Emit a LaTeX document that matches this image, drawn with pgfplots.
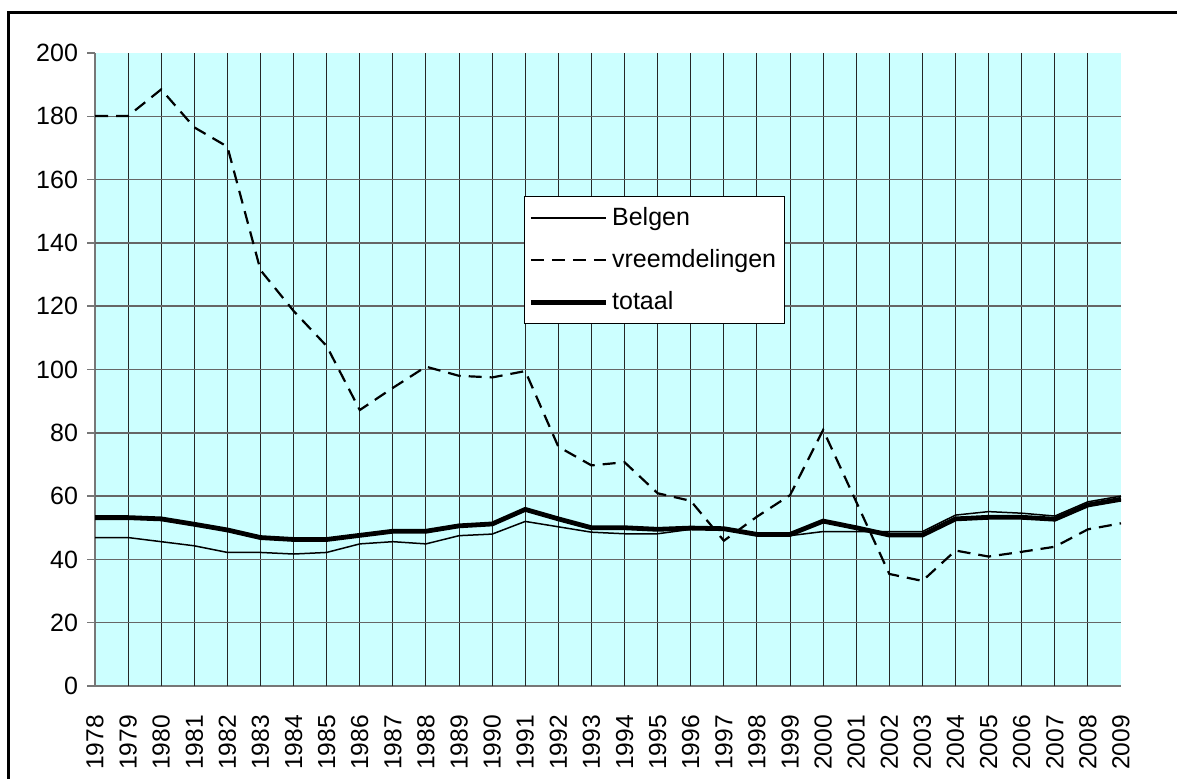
\documentclass[border=0pt]{standalone}
\usepackage{fontspec}
\setmainfont{Liberation Sans}
\usepackage{pgfplots}
\pgfplotsset{compat=1.18}
\usepackage{pgfplotstable}
\definecolor{bg}{HTML}{CCFFFF}
\definecolor{gridgray}{HTML}{666666}
\definecolor{axgray}{HTML}{777777}
\pgfplotstableread{
x belgen vreemd totaal
0 46.9 180.1 53.2
1 46.9 180.1 53.2
2 45.6 188.5 52.8
3 44.3 176.5 51.1
4 42.2 170.4 49.3
5 42.2 131.4 46.9
6 41.7 118.5 46.3
7 42.2 107.4 46.3
8 44.9 87.2 47.6
9 45.6 94.2 48.9
10 44.9 100.9 48.9
11 47.5 98.0 50.6
12 48.0 97.5 51.2
13 52.0 99.5 55.8
14 50.3 75.6 52.8
15 48.6 69.7 50.0
16 48.1 70.7 50.0
17 48.1 60.9 49.5
18 49.5 58.5 49.9
19 50.0 45.9 49.7
20 47.5 53.5 47.9
21 47.5 60.3 47.9
22 48.8 80.9 52.1
23 48.8 58.2 50.0
24 48.8 35.4 47.7
25 48.8 33.2 47.7
26 54.0 42.8 52.8
27 55.1 40.9 53.3
28 54.6 42.4 53.3
29 53.7 44.0 52.7
30 58.2 49.5 57.2
31 60.0 51.4 59.0
}\datatable
\begin{document}
\begin{tikzpicture}
\useasboundingbox (0,0) rectangle (588.5pt,389pt);
\draw[line width=1.5pt] (4.25pt,-20pt) -- (4.25pt,382.75pt) -- (620pt,382.75pt);
\begin{axis}[
  at={(47.5pt,46pt)}, anchor=south west,
  scale only axis, width=513pt, height=316.5pt,
  xmin=0, xmax=31, ymin=0, ymax=200,
  axis background/.style={fill=bg},
  axis lines*=left,
  axis line style={axgray, line width=0.75pt},
  xtick={0,...,31},
  xticklabels={1978,1979,1980,1981,1982,1983,1984,1985,1986,1987,1988,1989,1990,1991,1992,1993,1994,1995,1996,1997,1998,1999,2000,2001,2002,2003,2004,2005,2006,2007,2008,2009},
  x tick label style={rotate=90, anchor=east, font=\fontsize{12.3}{14}\selectfont},
  xticklabel shift=7pt,
  xtick style={draw=none},
  ytick={0,20,...,200},
  y tick label style={font=\fontsize{12.5}{14}\selectfont},
  yticklabel shift=1pt,
  ytick style={axgray, line width=0.75pt},
  tick align=outside,
  major tick length=4pt,
  /pgf/number format/assume math mode=true,
  extra x ticks={1,...,30},
  extra x tick labels={},
  extra x tick style={grid=major, major grid style={black!85, line width=0.5pt}, xtick style={draw=none}},
  extra y ticks={20,40,...,180},
  extra y tick labels={},
  extra y tick style={grid=major, major grid style={gridgray, line width=0.75pt}, ytick style={draw=none}},
  legend style={at={(0.418,0.774)}, anchor=north west, draw=black, line width=0.5pt,
    font=\fontsize{12.5}{14}\selectfont, inner xsep=2pt, inner ysep=3.5pt, row sep=6.5pt, fill=white},
  legend cell align=left,
  legend image code/.code={\draw[#1] (0pt,0pt) -- (37.5pt,0pt);},
]
\addplot[black, line width=0.75pt] table[x=x, y=belgen] {\datatable};
\addlegendentry{Belgen}
\addplot[black, line width=1.1pt, dash pattern=on 6.5pt off 4pt] table[x=x, y=vreemd] {\datatable};
\addlegendentry{vreemdelingen}
\addplot[black, line width=2.4pt] table[x=x, y=totaal] {\datatable};
\addlegendentry{totaal}
\end{axis}
\end{tikzpicture}
\end{document}
